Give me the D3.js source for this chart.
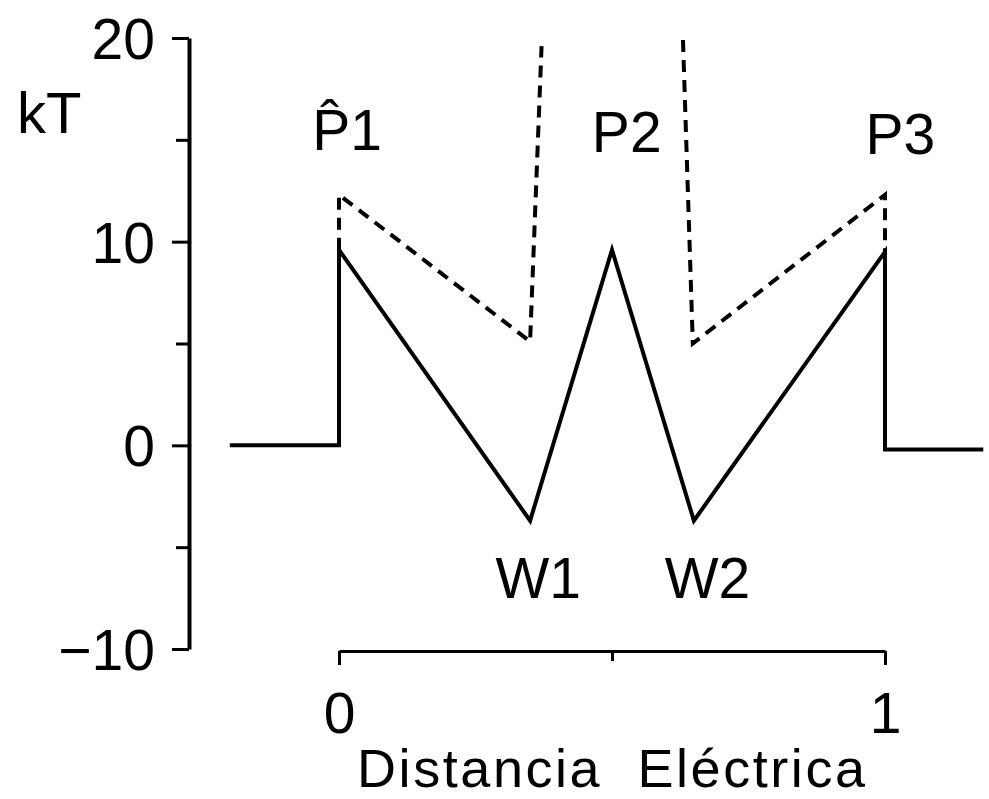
<!DOCTYPE html>
<html>
<head>
<meta charset="utf-8">
<script src="https://cdn.jsdelivr.net/npm/d3@7/dist/d3.min.js"></script>
<style>
  html, body { margin: 0; padding: 0; background: #fff; }
  svg { display: block; }
  text { font-family: "Liberation Sans", Arial, sans-serif; fill: #000; }
</style>
</head>
<body>
<svg id="chart" width="989" height="799"></svg>
<script>
// Energy profile along the electrical distance (in units of kT)
const solidX = [-0.2, 0, 0, 0.35, 0.5, 0.65, 1, 1, 1.18];
const solidY = [0, 0, 9.6, -3.7, 9.6, -3.7, 9.5, -0.2, -0.2];

// Dashed profile, two branches
const dashLeftX = [0, 0, 0.35, 0.371];
const dashLeftY = [9.6, 12.3, 5.1, 19.6];
const dashRightX = [0.63, 0.648, 1, 1];
const dashRightY = [19.9, 5.0, 12.3, 9.5];

// Axis ticks
const yMajorTicks = [20, 10, 0, -10];
const yMinorTicks = [15, 5, -5];
const xTicks = [0, 0.5, 1];
const xTickLabels = ["0", "", "1"];

// Peak and well annotations (P1 carries a circumflex)
const labelText = ["P\u03021", "P2", "P3", "W1", "W2"];
const labelX = [0.015, 0.527, 1.028, 0.365, 0.675];
const labelY = [14.5, 14.4, 14.3, -7.5, -7.5];

const svg = d3.select("#chart");

const x = d3.scaleLinear().domain([0, 1]).range([339, 885]);
const y = d3.scaleLinear().domain([-10, 20]).range([649, 38]);

const axisX = 189;
const axisY = 651;

// Y axis
const yAxisMajor = d3.axisLeft(y).tickValues(yMajorTicks).tickSize(17).tickSizeOuter(0).tickPadding(17)
  .tickFormat(d => d < 0 ? "\u2212" + Math.abs(d) : String(d));
const gy = svg.append("g").attr("transform", `translate(${axisX},0)`).call(yAxisMajor);
gy.select(".domain").attr("stroke", "#000").attr("stroke-width", 4);
gy.selectAll(".tick line").attr("stroke", "#000").attr("stroke-width", 3);
gy.selectAll(".tick text").attr("font-size", 57).attr("font-family", null).attr("dy", "0.36em");

const yAxisMinor = d3.axisLeft(y).tickValues(yMinorTicks).tickSize(13).tickSizeOuter(0).tickFormat("");
const gy2 = svg.append("g").attr("transform", `translate(${axisX},0)`).call(yAxisMinor);
gy2.select(".domain").remove();
gy2.selectAll(".tick line").attr("stroke", "#000").attr("stroke-width", 3);

// X axis
const xAxis = d3.axisBottom(x).tickValues(xTicks).tickSize(14).tickSizeOuter(0).tickPadding(28)
  .tickFormat((d, i) => xTickLabels[i]);
const gx = svg.append("g").attr("transform", `translate(0,${axisY})`).call(xAxis);
gx.select(".domain").attr("stroke", "#000").attr("stroke-width", 3);
gx.selectAll(".tick line").attr("stroke", "#000").attr("stroke-width", 3)
  .attr("y2", d => d === 0.5 ? 10 : 14);
gx.selectAll(".tick text").attr("font-size", 57).attr("font-family", null).attr("dy", "0.71em");

// Axis titles
svg.append("text").attr("x", 17).attr("y", 133).attr("font-size", 58).text("kT");
svg.append("text").attr("x", 357).attr("y", 787).attr("font-size", 54)
  .style("white-space", "pre")
  .attr("textLength", 508).attr("lengthAdjust", "spacing")
  .text("Distancia\u00A0 Eléctrica");

// Profiles
const line = d3.line().x(d => x(d[0])).y(d => y(d[1]));

svg.append("path")
  .attr("d", line(d3.zip(solidX, solidY)))
  .attr("fill", "none").attr("stroke", "#000").attr("stroke-width", 4)
  .attr("stroke-linejoin", "miter");

[[dashLeftX, dashLeftY], [dashRightX, dashRightY]].forEach(([xs, ys]) => {
  svg.append("path")
    .attr("d", line(d3.zip(xs, ys)))
    .attr("fill", "none").attr("stroke", "#000").attr("stroke-width", 4)
    .attr("stroke-dasharray", "12,8");
});

// Annotations
svg.append("g").selectAll("text")
  .data(d3.zip(labelText, labelX, labelY))
  .join("text")
  .attr("x", d => x(d[1]))
  .attr("y", d => y(d[2]))
  .attr("text-anchor", "middle")
  .attr("font-size", 57)
  .text(d => d[0]);
</script>
</body>
</html>
